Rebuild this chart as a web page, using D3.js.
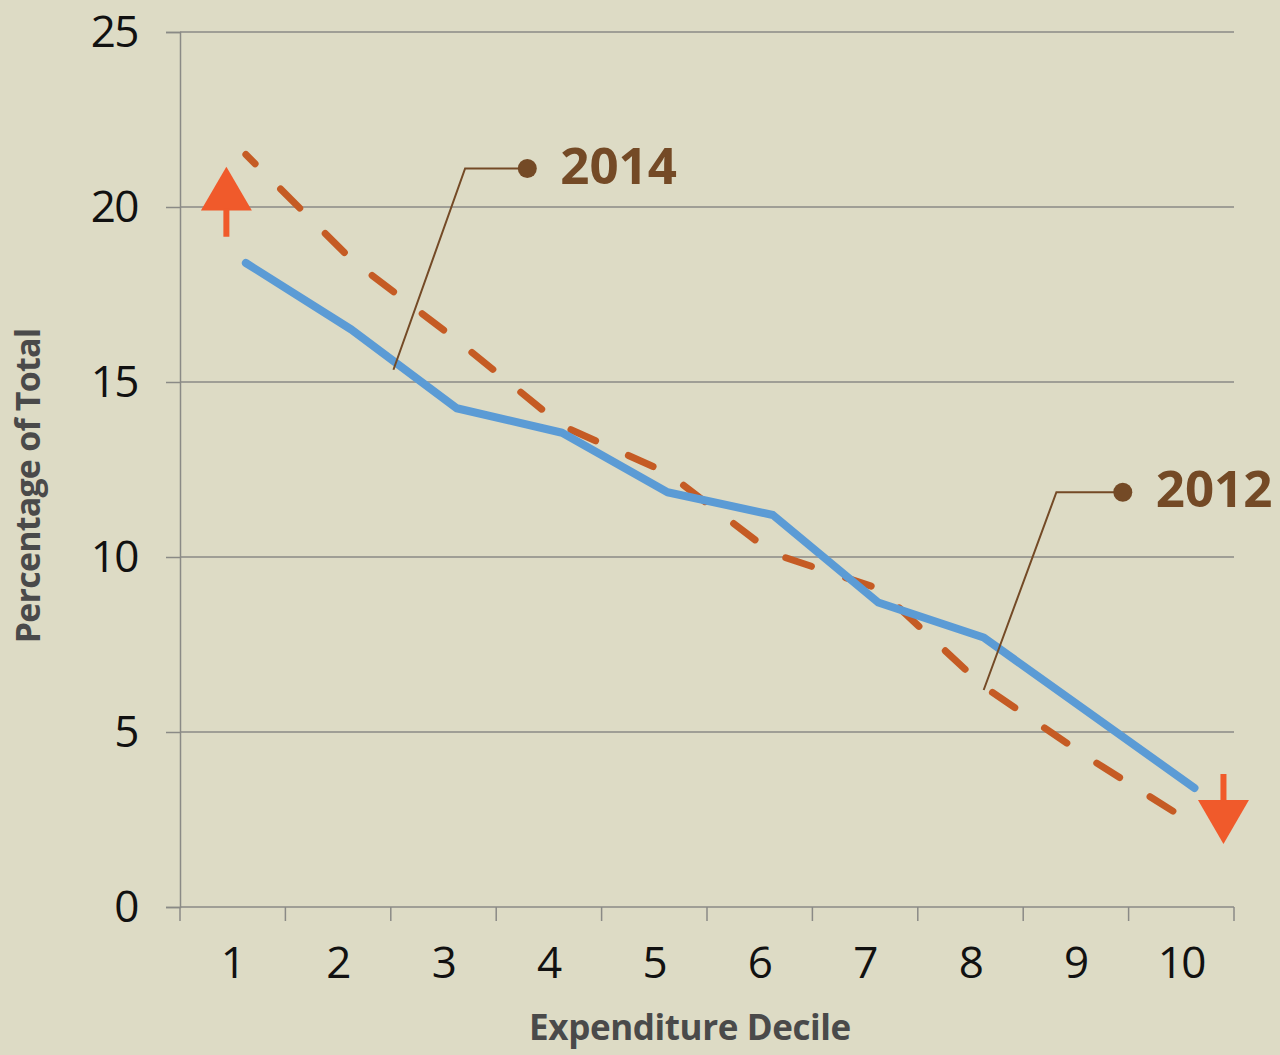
<!DOCTYPE html>
<html>
<head>
<meta charset="utf-8">
<script src="https://cdn.jsdelivr.net/npm/d3@7"></script>
<style>
  body { margin: 0; background: #dddbc5; }
  svg { display: block; }
</style>
</head>
<body>
<div id="chart"></div>
<script>
// data
const deciles = [1, 2, 3, 4, 5, 6, 7, 8, 9, 10];
const values2014 = [18.4, 16.5, 14.25, 13.55, 11.85, 11.2, 8.7, 7.7, 5.55, 3.4];
const values2012 = [21.5, 18.5, 16.2, 13.75, 12.4, 10.1, 9.1, 6.3, 4.25, 2.35];
const yTicks = [0, 5, 10, 15, 20, 25];

// callouts in data units (x in decile units, y in percent)
const callouts = [
    { label: "2014", x: 2.4, y: 15.35, elbowX: 3.08, elbowY: 21.1, dotX: 3.67 },
    { label: "2012", x: 8.0, y: 6.2, elbowX: 8.69, elbowY: 11.85, dotX: 9.32 }
];

const width = 1280, height = 1055;
const margin = { top: 32, right: 46, bottom: 148, left: 180 };

const svg = d3.select("#chart").append("svg")
    .attr("width", width)
    .attr("height", height);

svg.append("rect")
    .attr("width", width)
    .attr("height", height)
    .attr("fill", "#dddbc5");

const x = d3.scaleBand()
    .domain(deciles)
    .range([margin.left, width - margin.right]);

// the lines sit a bit right of the label centres in the original
const xLine = d => x(d) + x.bandwidth() * 0.625;
// same thing but for fractional decile positions (annotations)
const xPos = d3.scaleLinear()
    .domain([1, 10])
    .range([xLine(1), xLine(10)]);

const y = d3.scaleLinear()
    .domain([0, 25])
    .range([height - margin.bottom, margin.top]);

const gridColor = "#8a8a86";

// gridlines
svg.append("g")
    .selectAll("line")
    .data(yTicks.filter(d => d > 0))
    .enter().append("line")
    .attr("x1", margin.left)
    .attr("x2", width - margin.right)
    .attr("y1", d => y(d))
    .attr("y2", d => y(d))
    .attr("stroke", gridColor)
    .attr("stroke-width", 1.5);

// y axis
const yAxis = svg.append("g")
    .attr("transform", `translate(${margin.left},0)`)
    .call(d3.axisLeft(y).tickValues(yTicks).tickSize(14).tickPadding(28));
yAxis.select(".domain").attr("stroke", gridColor).attr("stroke-width", 1.5);
yAxis.selectAll(".tick line").attr("stroke", gridColor).attr("stroke-width", 1.5);
yAxis.selectAll(".tick text")
    .attr("font-family", "'Open Sans', sans-serif")
    .attr("font-size", 44)
    .attr("letter-spacing", -1.5)
    .attr("fill", "#111")
    .attr("dy", "0.34em");

// x axis with ticks on the band edges
const xAxisG = svg.append("g")
    .attr("transform", `translate(0,${y(0)})`);
xAxisG.append("line")
    .attr("x1", margin.left)
    .attr("x2", width - margin.right)
    .attr("stroke", gridColor)
    .attr("stroke-width", 1.5);
const edges = deciles.map(d => x(d)).concat([x(10) + x.bandwidth()]);
xAxisG.selectAll("line.tick")
    .data(edges)
    .enter().append("line")
    .attr("class", "tick")
    .attr("x1", d => d)
    .attr("x2", d => d)
    .attr("y1", 0)
    .attr("y2", 14)
    .attr("stroke", gridColor)
    .attr("stroke-width", 1.5);
xAxisG.selectAll("text")
    .data(deciles)
    .enter().append("text")
    .attr("x", d => x(d) + x.bandwidth() / 2)
    .attr("y", 71)
    .attr("text-anchor", "middle")
    .attr("font-family", "'Open Sans', sans-serif")
    .attr("font-size", 44)
    .attr("letter-spacing", -1.5)
    .attr("fill", "#111")
    .text(d => d);

// axis titles
svg.append("text")
    .attr("x", 690)
    .attr("y", 1040)
    .attr("text-anchor", "middle")
    .attr("font-family", "'Open Sans', sans-serif")
    .attr("font-weight", "bold")
    .attr("font-size", 35)
    .attr("letter-spacing", -0.4)
    .attr("fill", "#4a4a4a")
    .text("Expenditure Decile");

svg.append("text")
    .attr("transform", "translate(40,486) rotate(-90)")
    .attr("text-anchor", "middle")
    .attr("font-family", "'Open Sans', sans-serif")
    .attr("font-weight", "bold")
    .attr("font-size", 34)
    .attr("letter-spacing", -0.8)
    .attr("fill", "#4a4a4a")
    .text("Percentage of Total");

// lines
const line = d3.line()
    .x((d, i) => xLine(deciles[i]))
    .y(d => y(d));

svg.append("path")
    .attr("d", line(values2012))
    .attr("fill", "none")
    .attr("stroke", "#c55b24")
    .attr("stroke-width", 7)
    .attr("stroke-linecap", "round")
    .attr("stroke-dasharray", "27,36")
    .attr("stroke-dashoffset", 14);

svg.append("path")
    .attr("d", line(values2014))
    .attr("fill", "none")
    .attr("stroke", "#5b9bd5")
    .attr("stroke-width", 8)
    .attr("stroke-linejoin", "round")
    .attr("stroke-linecap", "round");

// callouts
const calloutColor = "#744a26";
const cg = svg.append("g")
    .selectAll("g")
    .data(callouts)
    .enter().append("g");

cg.append("polyline")
    .attr("points", d => [
        [xPos(d.x), y(d.y)],
        [xPos(d.elbowX), y(d.elbowY)],
        [xPos(d.dotX), y(d.elbowY)]
    ].join(" "))
    .attr("fill", "none")
    .attr("stroke", calloutColor)
    .attr("stroke-width", 2);

cg.append("circle")
    .attr("cx", d => xPos(d.dotX))
    .attr("cy", d => y(d.elbowY))
    .attr("r", 9.5)
    .attr("fill", calloutColor);

cg.append("text")
    .attr("x", d => xPos(d.dotX) + 33)
    .attr("y", d => y(d.elbowY) + 15)
    .attr("font-family", "'Open Sans', sans-serif")
    .attr("font-weight", "bold")
    .attr("font-size", 51)
    .attr("fill", calloutColor)
    .text(d => d.label);

// trend arrows
const arrowColor = "#f05a2b";
const upX = x(1) + x.bandwidth() * 0.44;
const downX = x(10) + x.bandwidth() * 0.9;

svg.append("path")
    .attr("d", `M${upX},${y(21.15)} L${upX + 25.5},${y(19.9)} L${upX - 25.5},${y(19.9)} Z`)
    .attr("fill", arrowColor);
svg.append("line")
    .attr("x1", upX).attr("x2", upX)
    .attr("y1", y(19.95)).attr("y2", y(19.15))
    .attr("stroke", arrowColor)
    .attr("stroke-width", 6);

svg.append("path")
    .attr("d", `M${downX},${y(1.8)} L${downX + 25.5},${y(3.06)} L${downX - 25.5},${y(3.06)} Z`)
    .attr("fill", arrowColor);
svg.append("line")
    .attr("x1", downX).attr("x2", downX)
    .attr("y1", y(3.8)).attr("y2", y(3.0))
    .attr("stroke", arrowColor)
    .attr("stroke-width", 6);
</script>
</body>
</html>
